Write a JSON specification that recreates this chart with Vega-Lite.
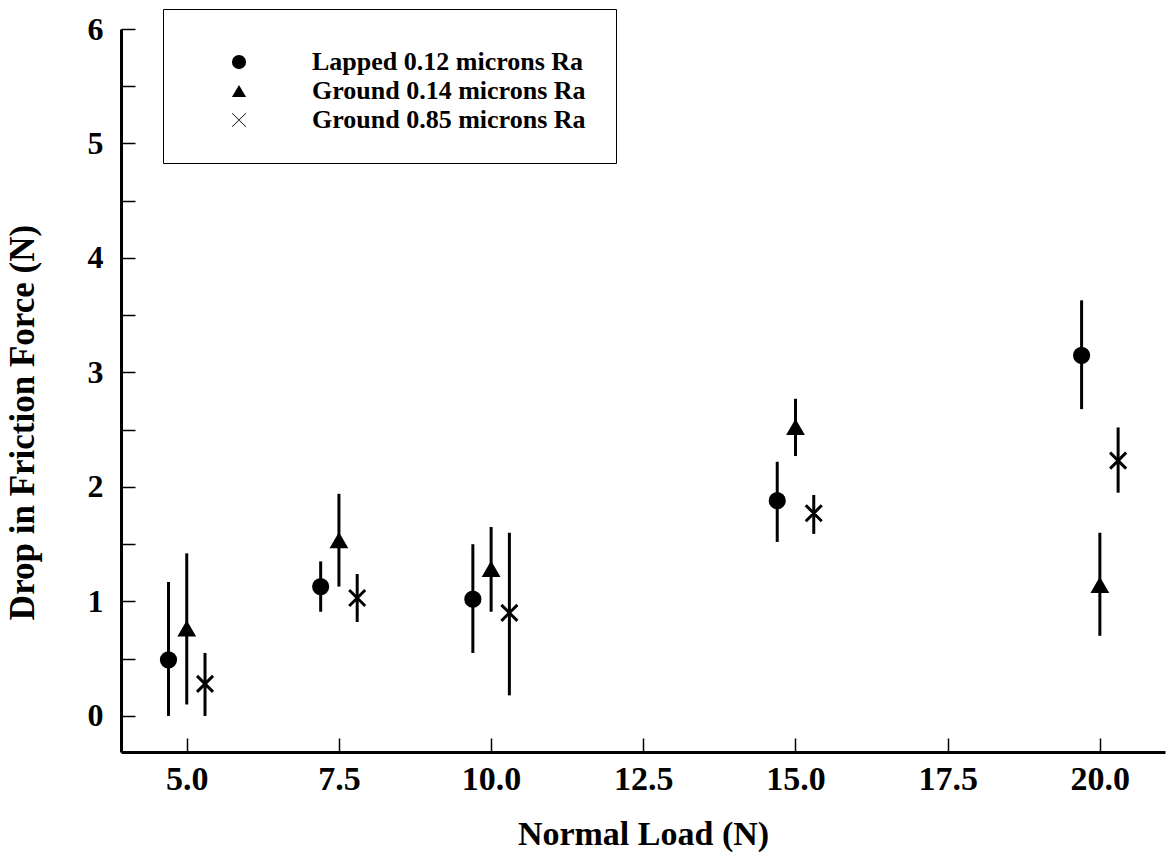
{
  "$schema": "https://vega.github.io/schema/vega-lite/v6.json",
  "width": 1044,
  "height": 723,
  "autosize": {"type": "none"},
  "padding": {"left": 121, "top": 29, "right": 2, "bottom": 105},
  "background": "white",
  "config": {"view": {"stroke": null}, "font": "Liberation Serif"},
  "data": {
    "values": [
      {"load": 4.7, "series": "Lapped 0.12 microns Ra", "value": 0.49, "lo": 0.0, "hi": 1.17},
      {"load": 7.2, "series": "Lapped 0.12 microns Ra", "value": 1.13, "lo": 0.91, "hi": 1.35},
      {"load": 9.7, "series": "Lapped 0.12 microns Ra", "value": 1.02, "lo": 0.55, "hi": 1.50},
      {"load": 14.7, "series": "Lapped 0.12 microns Ra", "value": 1.88, "lo": 1.52, "hi": 2.22},
      {"load": 19.7, "series": "Lapped 0.12 microns Ra", "value": 3.15, "lo": 2.68, "hi": 3.63},
      {"load": 5.0, "series": "Ground 0.14 microns Ra", "value": 0.76, "lo": 0.10, "hi": 1.42},
      {"load": 7.5, "series": "Ground 0.14 microns Ra", "value": 1.53, "lo": 1.13, "hi": 1.94},
      {"load": 10.0, "series": "Ground 0.14 microns Ra", "value": 1.28, "lo": 0.91, "hi": 1.65},
      {"load": 15.0, "series": "Ground 0.14 microns Ra", "value": 2.52, "lo": 2.27, "hi": 2.77},
      {"load": 20.0, "series": "Ground 0.14 microns Ra", "value": 1.14, "lo": 0.70, "hi": 1.60},
      {"load": 5.3, "series": "Ground 0.85 microns Ra", "value": 0.28, "lo": 0.0, "hi": 0.55},
      {"load": 7.8, "series": "Ground 0.85 microns Ra", "value": 1.03, "lo": 0.82, "hi": 1.24},
      {"load": 10.3, "series": "Ground 0.85 microns Ra", "value": 0.90, "lo": 0.18, "hi": 1.60},
      {"load": 15.3, "series": "Ground 0.85 microns Ra", "value": 1.77, "lo": 1.59, "hi": 1.93},
      {"load": 20.3, "series": "Ground 0.85 microns Ra", "value": 2.23, "lo": 1.95, "hi": 2.52}
    ]
  },
  "resolve": {"axis": {"x": "independent", "y": "independent"}},
  "layer": [
    {
      "mark": {"type": "rule", "strokeWidth": 3, "color": "black"},
      "encoding": {
        "x": {
          "field": "load", "type": "quantitative",
          "scale": {"domain": [3.92, 21.07], "nice": false, "zero": false},
          "axis": {
            "values": [5, 7.5, 10, 12.5, 15, 17.5, 20],
            "format": ".1f",
            "grid": false,
            "ticks": false,
            "domainColor": "black", "domainWidth": 3,
            "labelFont": "Liberation Serif", "labelFontSize": 34, "labelFontWeight": "bold", "labelColor": "black",
            "labelPadding": 10, "labelFlush": false, "labelOverlap": false,
            "title": "Normal Load (N)",
            "titleFont": "Liberation Serif", "titleFontSize": 34, "titleFontWeight": "bold", "titleColor": "black",
            "titleY": 92, "titleBaseline": "alphabetic"
          }
        },
        "y": {
          "field": "lo", "type": "quantitative",
          "scale": {"domain": [-0.315, 6], "nice": false, "zero": false},
          "axis": {
            "values": [0, 1, 2, 3, 4, 5, 6],
            "format": "d",
            "grid": false,
            "ticks": false,
            "domainColor": "black", "domainWidth": 3,
            "labelFont": "Liberation Serif", "labelFontSize": 32, "labelFontWeight": "bold", "labelColor": "black",
            "labelPadding": 18, "labelFlush": false, "labelOverlap": false,
            "title": "Drop in Friction Force (N)",
            "titleFont": "Liberation Serif", "titleFontSize": 35, "titleFontWeight": "bold", "titleColor": "black",
            "titleX": -88, "titleY": 393, "titleAngle": 270, "titleBaseline": "alphabetic", "titleAlign": "center"
          }
        },
        "y2": {"field": "hi"}
      }
    },
    {
      "mark": {"type": "point", "filled": true, "fill": "black", "stroke": "black", "strokeWidth": 2.2, "size": 225, "opacity": 1},
      "encoding": {
        "x": {
          "field": "load", "type": "quantitative",
          "axis": {
            "orient": "top", "offset": -723,
            "values": [5, 7.5, 10, 12.5, 15, 17.5, 20],
            "labels": false, "domain": false, "grid": false, "title": null,
            "ticks": true, "tickSize": 14, "tickWidth": 1.5, "tickColor": "black"
          }
        },
        "y": {
          "field": "value", "type": "quantitative",
          "axis": {
            "orient": "right", "offset": -1044,
            "values": [0, 0.5, 1, 1.5, 2, 2.5, 3, 3.5, 4, 4.5, 5, 5.5, 6],
            "labels": false, "domain": false, "grid": false, "title": null,
            "ticks": true, "tickSize": 14, "tickWidth": 1.5, "tickColor": "black"
          }
        },
        "shape": {
          "field": "series", "type": "nominal",
          "scale": {
            "domain": ["Lapped 0.12 microns Ra", "Ground 0.14 microns Ra", "Ground 0.85 microns Ra"],
            "range": ["circle", "triangle-up", "M-1,-0.93L-0.93,-1L1,0.93L0.93,1ZM0.93,-1L1,-0.93L-0.93,1L-1,0.93Z"]
          },
          "legend": {
            "orient": "none", "legendX": 42, "legendY": -20,
            "title": " ", "titleFontSize": 10, "titlePadding": 0,
            "padding": 30,
            "strokeColor": "black",
            "symbolOffset": 33,
            "symbolSize": 200,
            "symbolFillColor": "black", "symbolStrokeColor": "black", "symbolStrokeWidth": 1,
            "labelFont": "Liberation Serif", "labelFontSize": 26, "labelFontWeight": "bold", "labelColor": "black",
            "labelOffset": 60, "rowPadding": 3, "labelLimit": 500,
            "encode": {
              "symbols": {"update": {"stroke": {"value": "black"}, "strokeWidth": {"value": 1}, "fill": {"value": "black"}, "opacity": {"value": 1}}}
            }
          }
        }
      }
    }
  ]
}
